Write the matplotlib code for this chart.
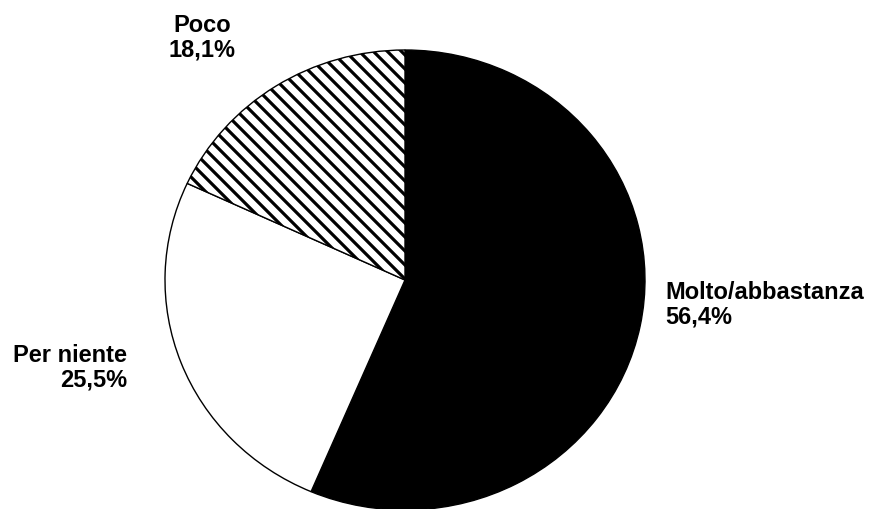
import matplotlib
matplotlib.use("Agg")
import matplotlib.pyplot as plt

labels = ["Molto/abbastanza", "Per niente", "Poco"]
values = [56.4, 25.5, 18.1]
pct_labels = ["56,4%", "25,5%", "18,1%"]

DPI = 84
S = 100 / DPI
plt.rcParams['font.family'] = ['Liberation Sans', 'DejaVu Sans']
plt.rcParams['hatch.linewidth'] = 2.3 * S

W, H = 869, 509
fig = plt.figure(figsize=(W / DPI, H / DPI), dpi=DPI)
cx, cy, rx, ry = 405, 280, 240, 230
ax = fig.add_axes([(cx - rx) / W, (H - cy - ry) / H, 2 * rx / W, 2 * ry / H])

wedges, _ = ax.pie(values, startangle=90, counterclock=False,
                   colors=["black", "white", "white"],
                   wedgeprops=dict(edgecolor="black", linewidth=1.0 * S))
wedges[2].set_hatch("\\\\")
ax.set_aspect('auto')
ax.set_xlim(-1, 1)
ax.set_ylim(-1, 1)
ax.axis('off')

fs = 17 * S
fig.text(665 / W, 1 - 305 / H, f"{labels[0]}\n{pct_labels[0]}", ha="left", va="center",
         fontsize=fs, fontweight="bold", linespacing=1.1)
fig.text(127 / W, 1 - 368 / H, f"{labels[1]}\n{pct_labels[1]}", ha="right", va="center",
         fontsize=fs, fontweight="bold", linespacing=1.1, multialignment="right")
fig.text(202 / W, 1 - 38 / H, f"{labels[2]}\n{pct_labels[2]}", ha="center", va="center",
         fontsize=fs, fontweight="bold", linespacing=1.1, multialignment="center")

fig.savefig("out.png", dpi=DPI)
